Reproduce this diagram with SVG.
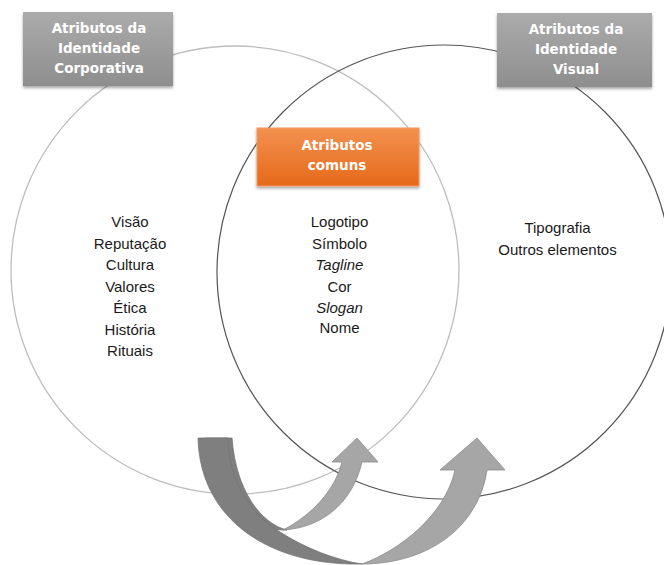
<svg xmlns="http://www.w3.org/2000/svg" width="664" height="565" viewBox="0 0 664 565">
  <defs>
    <linearGradient id="gGray" x1="0" y1="0" x2="0" y2="1">
      <stop offset="0" stop-color="#ababab"/>
      <stop offset="1" stop-color="#8e8e8e"/>
    </linearGradient>
    <linearGradient id="gOrange" x1="0" y1="0" x2="0" y2="1">
      <stop offset="0" stop-color="#f3914f"/>
      <stop offset="1" stop-color="#e5691a"/>
    </linearGradient>
    <filter id="shadow" x="-10%" y="-10%" width="120%" height="130%">
      <feDropShadow dx="0" dy="2" stdDeviation="1.6" flood-color="#000" flood-opacity="0.35"/>
    </filter>
  </defs>
  <style>
    .title { font-family: "DejaVu Sans", "Liberation Sans", sans-serif; font-weight: bold; font-size: 13.5px; fill: #ffffff; text-anchor: middle; }
    .item { font-family: "Liberation Sans", Arial, sans-serif; font-size: 15px; fill: #1a1a1a; text-anchor: middle; }
    .it { font-style: italic; }
    .back { fill: #7f7f7f; stroke: #737373; stroke-width: 0.8; }
    .front { fill: #a6a6a6; stroke: #8c8c8c; stroke-width: 0.8; }
  </style>

  <rect width="664" height="565" fill="#ffffff"/>

  <!-- the two overlapping sets -->
  <g id="circles" fill="none">
    <circle id="set-corporativa" cx="235" cy="270" r="224" stroke="#bdbdbd" stroke-width="1.3"/>
    <circle id="set-visual" cx="444" cy="272" r="227" stroke="#555555" stroke-width="1.2"/>
  </g>

  <!-- header boxes -->
  <g id="box-corporativa">
    <rect x="23" y="12" width="150" height="74" fill="url(#gGray)" filter="url(#shadow)"/>
    <text class="title" x="99" y="33">Atributos da</text>
    <text class="title" x="99" y="53">Identidade</text>
    <text class="title" x="99" y="73">Corporativa</text>
  </g>

  <g id="box-visual">
    <rect x="497" y="13" width="155" height="74" fill="url(#gGray)" filter="url(#shadow)"/>
    <text class="title" x="576" y="34">Atributos da</text>
    <text class="title" x="576" y="54">Identidade</text>
    <text class="title" x="576" y="74">Visual</text>
  </g>

  <g id="box-comuns">
    <rect x="257" y="128" width="162" height="58" fill="url(#gOrange)" stroke="#f29a62" stroke-width="1" filter="url(#shadow)"/>
    <text class="title" x="337" y="150">Atributos</text>
    <text class="title" x="337" y="170">comuns</text>
  </g>

  <!-- attribute lists -->
  <g id="list-corporativa">
    <text class="item" x="130" y="227">Visão</text>
    <text class="item" x="130" y="248.5">Reputação</text>
    <text class="item" x="130" y="270">Cultura</text>
    <text class="item" x="130" y="291.5">Valores</text>
    <text class="item" x="130" y="313">Ética</text>
    <text class="item" x="130" y="334.5">História</text>
    <text class="item" x="130" y="356">Rituais</text>
  </g>

  <g id="list-comuns">
    <text class="item" x="339.5" y="227">Logotipo</text>
    <text class="item" x="339.5" y="248.5">Símbolo</text>
    <text class="item it" x="339.5" y="270">Tagline</text>
    <text class="item" x="339.5" y="291.5">Cor</text>
    <text class="item it" x="339.5" y="313">Slogan</text>
    <text class="item" x="339.5" y="333">Nome</text>
  </g>

  <g id="list-visual">
    <text class="item" x="557.5" y="232.5">Tipografia</text>
    <text class="item" x="557.5" y="255">Outros elementos</text>
  </g>

  <!-- curved arrows from the corporate set into the shared and visual sets -->
  <g id="connectors">
    <!-- short arrow: back band then front band -->
    <path class="back" d="M205,438 C206,500 245,531 287,530 C262,524 236,492 232,438 Z"/>
    <!-- long arrow: back band -->
    <path class="back" d="M198,438 C200,520 270,566 362,564 C335,560 305,548 280,532 C248,512 229,480 228,438 Z"/>
    <!-- long arrow: front band with head -->
    <path class="front" d="M362,564 C425,564 478,530 487,470 L505,470 L477,438 L440,470 L455,470 C445,515 400,550 362,564 Z"/>
    <!-- short arrow: front band with head -->
    <path class="front" d="M283,530 C320,528 352,505 362,462 L378,462 L357,438 L332,462 L342,462 C335,490 312,515 283,530 Z"/>
  </g>
</svg>
